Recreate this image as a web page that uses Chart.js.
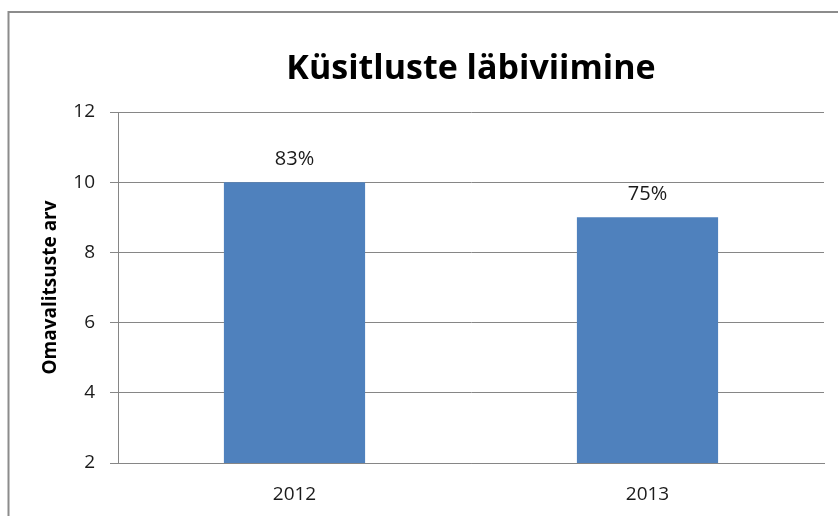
<!DOCTYPE html>
<html>
<head>
<meta charset="utf-8">
<script src="https://cdn.jsdelivr.net/npm/chart.js@4"></script>
<style>
  html, body { margin: 0; padding: 0; background: #fff; }
  #wrap { width: 838px; height: 516px; }
</style>
</head>
<body>
<div id="wrap"><canvas id="myChart" width="838" height="516"></canvas></div>
<script>
var years = ['2012', '2013'];
var counts = [10, 9];
var shares = ['83%', '75%'];
var yTicks = [2, 4, 6, 8, 10, 12];

var font = "'Open Sans', 'Liberation Sans', sans-serif";
var gray = '#868686';

// frame of the chart object, top and left edge only (rest is cropped)
var framePlugin = {
    id: 'frame',
    beforeDraw: function (chart) {
        var ctx = chart.ctx;
        ctx.save();
        ctx.strokeStyle = '#8c8c8c';
        ctx.lineWidth = 2;
        ctx.beginPath();
        ctx.moveTo(8.5, chart.height);
        ctx.lineTo(8.5, 12);
        ctx.lineTo(chart.width, 12);
        ctx.stroke();
        ctx.restore();
    }
};

// title centred over the plot area, and the % labels above the bars
var labelPlugin = {
    id: 'labels',
    afterDraw: function (chart) {
        var ctx = chart.ctx;
        var area = chart.chartArea;
        ctx.save();
        ctx.fillStyle = '#000';
        ctx.textAlign = 'center';
        ctx.textBaseline = 'alphabetic';
        ctx.font = 'bold 34px ' + font;
        ctx.fillText('Küsitluste läbiviimine', (area.left + area.right) / 2, 79);

        ctx.textBaseline = 'middle';
        ctx.fillStyle = '#1a1a1a';
        ctx.font = '20px ' + font;
        chart.getDatasetMeta(0).data.forEach(function (bar, i) {
            ctx.fillText(shares[i], bar.x, bar.y - 23);
        });
        ctx.restore();
    }
};

new Chart('myChart', {
    type: 'bar',
    data: {
        labels: years,
        datasets: [{
            data: counts,
            backgroundColor: '#4f81bd',
            barPercentage: 0.4,
            categoryPercentage: 1
        }]
    },
    options: {
        responsive: false,
        animation: false,
        layout: { padding: { top: 112, right: 14, left: 0, bottom: 0 } },
        plugins: {
            legend: { display: false },
            title: { display: false },
            tooltip: { enabled: false }
        },
        scales: {
            x: {
                grid: { display: false },
                border: { display: true, color: gray, width: 1 },
                ticks: { color: '#1a1a1a', font: { family: font, size: 19 }, padding: 12 },
                afterFit: function (s) { s.height = 53; }
            },
            y: {
                min: yTicks[0],
                max: yTicks[yTicks.length - 1],
                afterBuildTicks: function (s) {
                    s.ticks = yTicks.map(function (v) { return { value: v }; });
                },
                grid: { color: gray, tickLength: 8, drawTicks: true },
                border: { display: true, color: gray },
                ticks: { color: '#1a1a1a', font: { family: font, size: 19 }, padding: 15 },
                title: {
                    display: true,
                    text: 'Omavalitsuste arv',
                    color: '#000',
                    font: { family: font, size: 19, weight: 'bold' },
                    padding: { top: 39, bottom: 0 }
                },
                afterFit: function (s) { s.width = 118; }
            }
        }
    },
    plugins: [framePlugin, labelPlugin]
});
</script>
</body>
</html>
